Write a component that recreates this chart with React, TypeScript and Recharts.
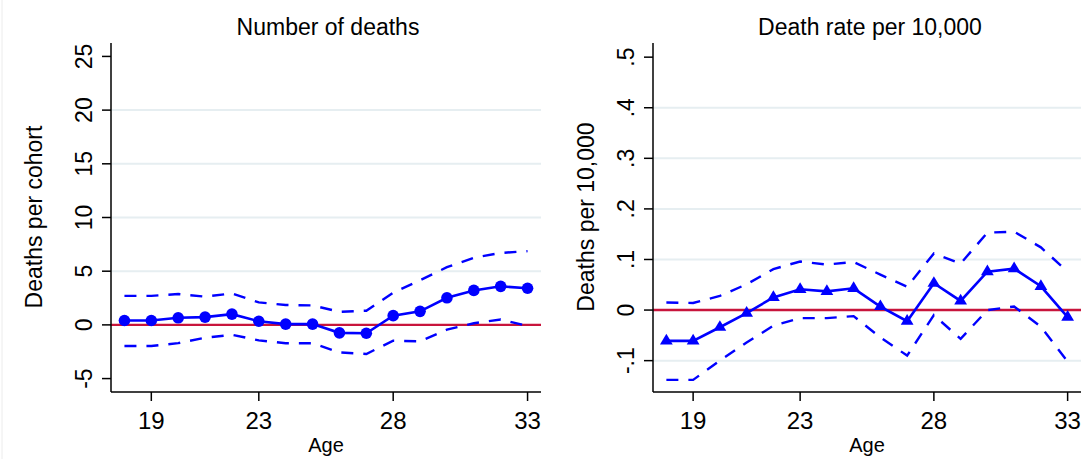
import { LineChart, Line, XAxis, YAxis, ReferenceLine } from 'recharts';

const FONT = '"Liberation Sans", Arial, Helvetica, sans-serif';
const BLUE = '#0000ff';
const RED = '#c8143c';
const GRID = '#e6eef1';

const ages = [18, 19, 20, 21, 22, 23, 24, 25, 26, 27, 28, 29, 30, 31, 32, 33];
const ageTicks = [19, 23, 28, 33];

// number of deaths per cohort: estimate with upper / lower band
const deathsEst = [0.41, 0.41, 0.66, 0.72, 1.0, 0.34, 0.07, 0.07, -0.74, -0.78, 0.86, 1.26, 2.52, 3.21, 3.59, 3.41];
const deathsUpper = [2.7, 2.7, 2.87, 2.63, 2.93, 2.1, 1.85, 1.81, 1.22, 1.32, 3.0, 4.15, 5.37, 6.25, 6.7, 6.87];
const deathsLower = [-1.97, -1.97, -1.7, -1.2, -0.92, -1.44, -1.71, -1.71, -2.56, -2.71, -1.47, -1.53, -0.44, 0.15, 0.5, -0.1];
const deathTicks = [-5, 0, 5, 10, 15, 20, 25];
const deathGrid = [5, 10, 15, 20];

// death rate per 10,000: estimate with upper / lower band
const rateEst = [-0.061, -0.061, -0.034, -0.006, 0.025, 0.041, 0.037, 0.043, 0.007, -0.022, 0.053, 0.018, 0.076, 0.082, 0.047, -0.014];
const rateUpper = [0.015, 0.014, 0.028, 0.051, 0.081, 0.096, 0.09, 0.095, 0.07, 0.046, 0.112, 0.092, 0.153, 0.155, 0.124, 0.076];
const rateLower = [-0.138, -0.138, -0.1, -0.064, -0.031, -0.016, -0.016, -0.012, -0.054, -0.09, -0.01, -0.057, 0.0, 0.007, -0.033, -0.102];
const rateTicks = [-0.1, 0, 0.1, 0.2, 0.3, 0.4, 0.5];
const rateGrid = [-0.1, 0.1, 0.2, 0.3, 0.4];

const buildRows = (est: number[], hi: number[], lo: number[]) =>
  ages.map((age, i) => ({ age, est: est[i], hi: hi[i], lo: lo[i] }));

const deathRows = buildRows(deathsEst, deathsUpper, deathsLower);
const rateRows = buildRows(rateEst, rateUpper, rateLower);

const fmtCount = (v: number) => String(v);
const fmtRate = (v: number) => (v === 0 ? '0' : v.toFixed(1).replace(/^(-?)0\./, '$1.'));

// rotated y tick label, reading bottom to top
const YTick = (props: any) => {
  const { x, y, payload, fmt } = props;
  const cx = x - 18;
  return (
    <text
      x={cx}
      y={y}
      transform={`rotate(-90 ${cx} ${y})`}
      textAnchor="middle"
      dominantBaseline="central"
      fontSize={23}
      fontFamily={FONT}
      fill="#000"
    >
      {fmt(payload.value)}
    </text>
  );
};

const AxisTitle = ({ tx, ty, text }: { tx: number; ty: number; text: string }) => (
  <text
    x={tx}
    y={ty}
    transform={`rotate(-90 ${tx} ${ty})`}
    textAnchor="middle"
    dominantBaseline="central"
    fontSize={23}
    fontFamily={FONT}
    fill="#000"
  >
    {text}
  </text>
);

const circleDot = { r: 5.8, fill: BLUE, stroke: BLUE, strokeWidth: 0 };

// filled triangle with its centroid on the data point
const triangleDot = (p: any) => {
  const { cx, cy, index } = p;
  if (cx == null || cy == null) return <g key={`t-${index}`} />;
  return (
    <path
      key={`t-${index}`}
      d={`M${cx},${cy - 7.1} L${cx + 6.4},${cy + 3.6} L${cx - 6.4},${cy + 3.6} Z`}
      fill={BLUE}
    />
  );
};

type PanelProps = {
  rows: { age: number; est: number; hi: number; lo: number }[];
  domain: [number, number];
  ticks: number[];
  grid: number[];
  fmt: (v: number) => string;
  yTitle: string;
  yTitleX: number;
  dot: any;
  width: number;
  yAxisWidth: number;
  marginRight: number;
  left: number;
};

function Panel({ rows, domain, ticks, grid, fmt, yTitle, yTitleX, dot, width, yAxisWidth, marginRight, left }: PanelProps) {
  return (
    <div style={{ position: 'absolute', left, top: 0 }}>
      <LineChart width={width} height={459} data={rows} margin={{ top: 43, right: marginRight, bottom: 0, left: 0 }}>
        <XAxis
          dataKey="age"
          type="number"
          domain={[17.5, 33.5]}
          ticks={ageTicks}
          interval={0}
          height={67}
          tickSize={9}
          tickMargin={11}
          axisLine={{ stroke: '#000', strokeWidth: 1.5 }}
          tickLine={{ stroke: '#000', strokeWidth: 1.5 }}
          tick={{ fill: '#000', fontSize: 24, fontFamily: FONT }}
          label={{ value: 'Age', position: 'insideBottom', offset: 7, fontSize: 20, fill: '#000', fontFamily: FONT }}
        />
        <YAxis
          type="number"
          domain={domain}
          ticks={ticks}
          interval={0}
          allowDataOverflow
          width={yAxisWidth}
          tickSize={9}
          tickMargin={0}
          axisLine={{ stroke: '#000', strokeWidth: 1.5 }}
          tickLine={{ stroke: '#000', strokeWidth: 1.5 }}
          tick={(p: any) => <YTick {...p} fmt={fmt} />}
          label={<AxisTitle tx={yTitleX} ty={217} text={yTitle} />}
        />
        {grid.map((v) => (
          <ReferenceLine key={`g-${v}`} y={v} stroke={GRID} strokeWidth={2} />
        ))}
        <ReferenceLine y={0} stroke={RED} strokeWidth={2.4} />
        <Line dataKey="hi" type="linear" stroke={BLUE} strokeWidth={2.4} strokeDasharray="12 10" dot={false} isAnimationActive={false} />
        <Line dataKey="lo" type="linear" stroke={BLUE} strokeWidth={2.4} strokeDasharray="12 10" dot={false} isAnimationActive={false} />
        <Line dataKey="est" type="linear" stroke={BLUE} strokeWidth={2.6} dot={dot} isAnimationActive={false} />
      </LineChart>
    </div>
  );
}

export default function App() {
  return (
    <div style={{ position: 'absolute', left: 0, top: 0, width: 1084, height: 459, background: '#fff', overflow: 'hidden' }}>
      <Panel
        rows={deathRows}
        domain={[-6.25, 26.25]}
        ticks={deathTicks}
        grid={deathGrid}
        fmt={fmtCount}
        yTitle="Deaths per cohort"
        yTitleX={34}
        dot={circleDot}
        width={545}
        yAxisWidth={111}
        marginRight={4}
        left={0}
      />
      <Panel
        rows={rateRows}
        domain={[-0.162, 0.528]}
        ticks={rateTicks}
        grid={rateGrid}
        fmt={fmtRate}
        yTitle="Deaths per 10,000"
        yTitleX={41}
        dot={triangleDot}
        width={539}
        yAxisWidth={108}
        marginRight={3}
        left={545}
      />
      <svg width={1084} height={459} style={{ position: 'absolute', left: 0, top: 0, pointerEvents: 'none' }}>
        <line x1={2} y1={0} x2={2} y2={459} stroke="#ececec" strokeWidth={1} />
        <text x={328} y={35} textAnchor="middle" fontSize={23} fontFamily={FONT} fill="#000">
          Number of deaths
        </text>
        <text x={870} y={35} textAnchor="middle" fontSize={23} fontFamily={FONT} fill="#000">
          Death rate per 10,000
        </text>
      </svg>
    </div>
  );
}
